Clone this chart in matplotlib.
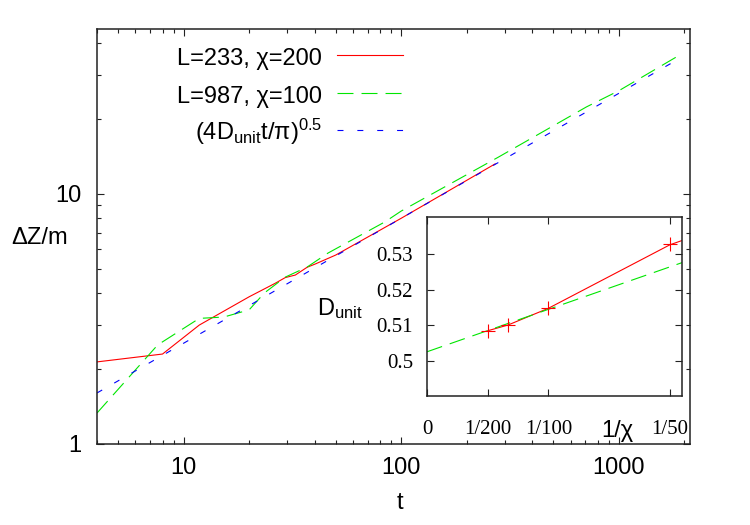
import matplotlib
matplotlib.use('Agg')
import matplotlib.pyplot as plt
from matplotlib.lines import Line2D
from matplotlib.ticker import LogLocator, FixedLocator, FixedFormatter, NullFormatter

# ---------------- data ----------------
red_t = [4, 8, 11.8, 20, 26.3, 29.3, 32.6, 36.9, 40.3, 50, 100, 270]
red_dz = [2.13, 2.29, 2.99, 3.88, 4.39, 4.63, 4.74, 5.09, 5.25, 5.7, 8.0, 13.2]

green_t = [4, 7.6, 11.8, 15.3, 20, 23.5, 29.3, 36.9, 46, 84, 100, 280, 709, 1000, 1905]
green_dz = [1.33, 2.49, 3.18, 3.22, 3.44, 4.02, 4.65, 5.1, 5.8, 7.73, 8.55, 14.06, 22.3, 25.9, 36.0]

blue_t = [4, 1905]
blue_dz = [1.6, 34.9]

legend_labels = ['L=233, χ=200', 'L=987, χ=100', r'(4D$_{unit}$t/π)$^{0.5}$']

inv_chi = [1 / 200, 1 / 150, 1 / 100, 1 / 50]
d_unit = [0.5084, 0.5100, 0.5149, 0.5327]
red_fit_x = [0.005, 1 / 150, 0.01, 0.02, 0.021]
red_fit_y = [0.5085, 0.5101, 0.5148, 0.5326, 0.5338]
green_fit_x = [0.0, 0.021]
green_fit_y = [0.5026, 0.5276]

main_xticks = [10, 100, 1000]
main_xticklabels = ['10', '100', '1000']
main_yticks = [1, 10]
main_yticklabels = ['1', '10']
inset_xticks = [0, 0.005, 0.01, 0.02]
inset_xticklabels = ['0', '1/200', '1/100', '1/50']
inset_yticks = [0.5, 0.51, 0.52, 0.53]
inset_yticklabels = ['0.5', '0.51', '0.52', '0.53']

# ---------------- style ----------------
plt.rcParams['font.family'] = ['Liberation Sans', 'DejaVu Sans']
plt.rcParams['mathtext.default'] = 'regular'
plt.rcParams['lines.scale_dashes'] = False

W, H = 750, 525
fig = plt.figure(figsize=(W / 100, H / 100), dpi=100)


def fx(px):
    return px / W


def fy(py):
    return 1 - py / H


RED = '#ff0000'
GREEN = '#00e600'
BLUE = '#0000ff'
GREEN_DASH = (11.5, 5.8)
BLUE_DASH = (4.3, 10.0)

# ---------------- main axes ----------------
ax = fig.add_axes([fx(97), fy(444), (690 - 97) / W, (444 - 29) / H])
ax.set_xscale('log')
ax.set_yscale('log')
ax.plot(red_t, red_dz, color=RED, lw=0.8)
ax.plot(green_t, green_dz, color=GREEN, lw=0.8, dashes=GREEN_DASH)
ax.plot(blue_t, blue_dz, color=BLUE, lw=0.8, dashes=BLUE_DASH)
ax.set_xlim(4, 2120)
ax.set_ylim(1, 45.7)

ax.xaxis.set_major_locator(FixedLocator(main_xticks))
ax.xaxis.set_major_formatter(FixedFormatter(main_xticklabels))
ax.yaxis.set_major_locator(FixedLocator(main_yticks))
ax.yaxis.set_major_formatter(FixedFormatter(main_yticklabels))
ax.xaxis.set_minor_locator(LogLocator(base=10, subs=range(2, 10), numticks=20))
ax.yaxis.set_minor_locator(LogLocator(base=10, subs=range(2, 10), numticks=20))
ax.xaxis.set_minor_formatter(NullFormatter())
ax.yaxis.set_minor_formatter(NullFormatter())
ax.tick_params(which='both', direction='in', top=True, right=True,
               width=0.8, color='#222222', labelcolor='black')
ax.tick_params(which='major', length=5, labelsize=17)
ax.tick_params(which='minor', length=3)
ax.tick_params(axis='x', which='major', pad=9)
ax.tick_params(axis='y', which='major', pad=11)
for s in ax.spines.values():
    s.set_linewidth(1.1)
    s.set_color('#222222')

ax.set_xlabel('t', fontsize=17, va='center')
ax.xaxis.set_label_coords((400 - 97) / 593, (444 - 503) / 415)
ax.set_ylabel('ΔZ/m', fontsize=17, rotation=0, ha='center', va='center')
ax.yaxis.set_label_coords((40 - 97) / 593, (444 - 238) / 415)

# ---------------- legend (key) ----------------
styles = [dict(color=RED, lw=0.8),
          dict(color=GREEN, lw=0.8, dashes=GREEN_DASH),
          dict(color=BLUE, lw=0.8, dashes=BLUE_DASH)]
line_y = [55, 92.5, 130]
base_y = [65, 103, 140]
for lab, st, ly, by in zip(legend_labels, styles, line_y, base_y):
    fig.text(fx(322), fy(by), lab, ha='right', va='baseline', fontsize=17)
    fig.add_artist(Line2D([fx(337), fx(403)], [fy(ly), fy(ly)],
                          transform=fig.transFigure, **st))

# ---------------- inset ----------------
ins = fig.add_axes([fx(427), fy(396), (682 - 427) / W, (396 - 217) / H])
ins.set_facecolor('white')
ins.plot(red_fit_x, red_fit_y, color=RED, lw=0.8)
ins.plot(green_fit_x, green_fit_y, color=GREEN, lw=0.8, dashes=GREEN_DASH)
ins.plot(inv_chi, d_unit, linestyle='none', marker='+', ms=9.5, mew=0.8, color=RED)
ins.set_xlim(0, 0.021)
ins.set_ylim(0.4902, 0.5404)
ins.set_xticks(inset_xticks)
ins.set_xticklabels(inset_xticklabels, fontfamily='Liberation Serif', fontsize=15)
ins.set_yticks(inset_yticks)
ins.set_yticklabels(inset_yticklabels, fontfamily='Liberation Serif', fontsize=15)
ins.tick_params(which='both', direction='in', top=True, right=True,
                length=5, width=0.8, color='#222222', labelcolor='black')
ins.tick_params(axis='x', pad=17)
ins.tick_params(axis='y', pad=10)
for s in ins.spines.values():
    s.set_linewidth(1.1)
    s.set_color('#222222')
ins.text((617 - 427) / 255, (396 - 431) / 179, '1/χ', transform=ins.transAxes,
         ha='center', va='center', fontsize=17)
ins.text((340 - 427) / 255, (396 - 309) / 179, 'D$_{unit}$', transform=ins.transAxes,
         ha='center', va='center', fontsize=17)

fig.savefig('out.png', dpi=100)
